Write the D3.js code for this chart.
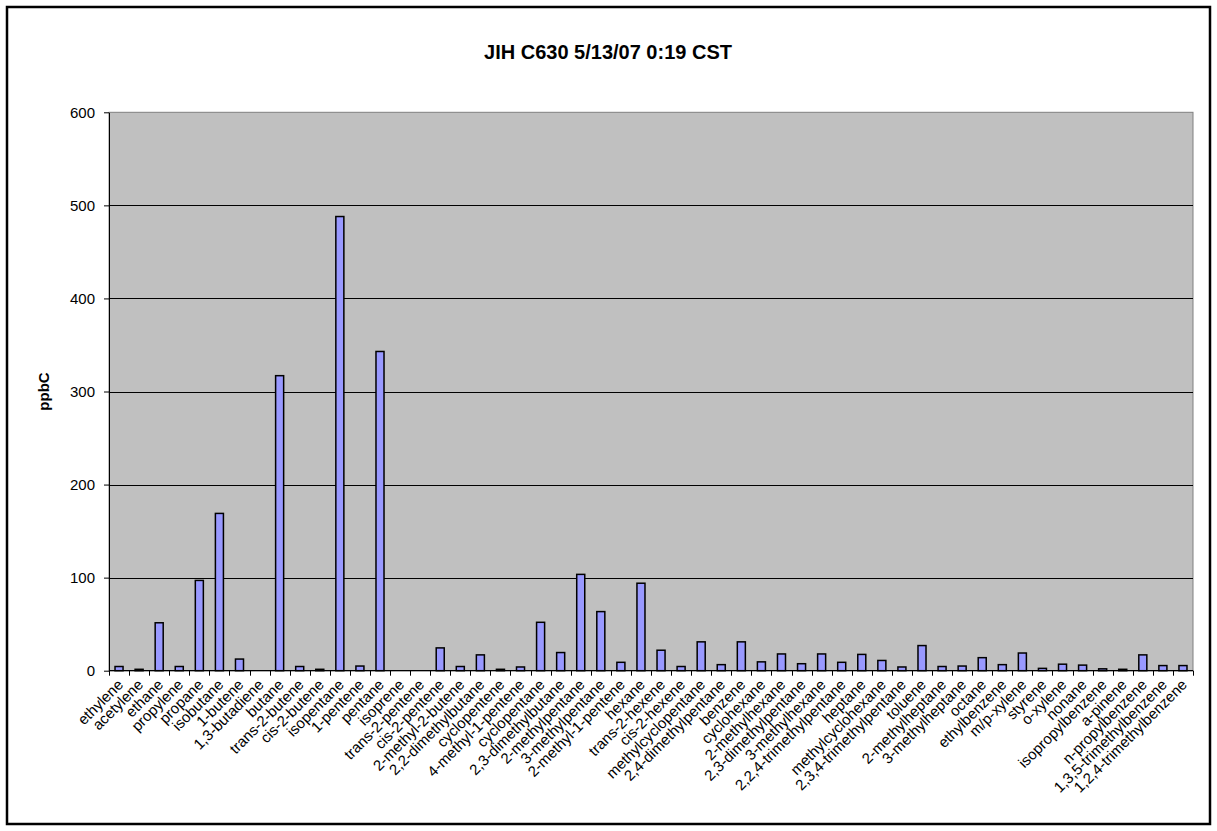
<!DOCTYPE html>
<html>
<head>
<meta charset="utf-8">
<script src="https://cdn.jsdelivr.net/npm/d3@7"></script>
<style>
  html, body { margin: 0; padding: 0; background: #fff; }
  svg { display: block; font-family: "Liberation Sans", Arial, sans-serif; }
</style>
</head>
<body>
<svg id="chart" width="1217" height="831"></svg>
<script>
// VOC speciation, ppbC
const compounds = [
  "ethylene", "acetylene", "ethane", "propylene", "propane", "isobutane",
  "1-butene", "1,3-butadiene", "butane", "trans-2-butene", "cis-2-butene",
  "isopentane", "1-pentene", "pentane", "isoprene", "trans-2-pentene",
  "cis-2-pentene", "2-methyl-2-butene", "2,2-dimethylbutane", "cyclopentene",
  "4-methyl-1-pentene", "cyclopentane", "2,3-dimethylbutane", "2-methylpentane",
  "3-methylpentane", "2-methyl-1-pentene", "hexane", "trans-2-hexene",
  "cis-2-hexene", "methylcyclopentane", "2,4-dimethylpentane", "benzene",
  "cyclohexane", "2-methylhexane", "2,3-dimethylpentane", "3-methylhexane",
  "2,2,4-trimethylpentane", "heptane", "methylcyclohexane",
  "2,3,4-trimethylpentane", "toluene", "2-methylheptane", "3-methylheptane",
  "octane", "ethylbenzene", "m/p-xylene", "styrene", "o-xylene", "nonane",
  "isopropylbenzene", "a-pinene", "n-propylbenzene", "1,3,5-trimethylbenzene",
  "1,2,4-trimethylbenzene"
];

const ppbC = [
  4.5, 1.5, 51.5, 4.5, 97, 169,
  12.5, 0, 317, 4.5, 1.5,
  488, 5, 343, 0, 0,
  24.5, 4.5, 17, 1.5,
  4, 52, 19.5, 103.5,
  63.5, 9, 94, 22,
  4.5, 31, 6.5, 31,
  9.5, 18, 7.5, 18,
  9, 17.5, 11,
  4, 27, 4.5, 5,
  14, 6.5, 19, 2.5, 7, 6,
  2, 1.5, 17, 5.5,
  5.5
];

const yTicks = [0, 100, 200, 300, 400, 500, 600];
const chartTitle = "JIH C630 5/13/07 0:19 CST";
const yTitle = "ppbC";

const svg = d3.select("#chart");
const plot = { left: 109, right: 1193, top: 112.3, bottom: 670.7 };

// Outer chart frame
svg.append("rect")
  .attr("x", 7).attr("y", 7)
  .attr("width", 1203).attr("height", 817)
  .attr("fill", "#fff").attr("stroke", "#000").attr("stroke-width", 2.5);

const x = d3.scaleBand()
  .domain(compounds)
  .range([plot.left, plot.right])
  .paddingInner(0.6).paddingOuter(0.3);

const y = d3.scaleLinear().domain([0, 600]).range([plot.bottom, plot.top]);

// Plot area background
svg.append("rect")
  .attr("x", plot.left).attr("y", plot.top)
  .attr("width", plot.right - plot.left).attr("height", plot.bottom - plot.top)
  .attr("fill", "#C0C0C0").attr("stroke", "#808080").attr("stroke-width", 1);

// Horizontal gridlines
svg.append("g")
  .selectAll("line")
  .data(yTicks.filter(d => d > 0 && d < 600))
  .join("line")
  .attr("x1", plot.left).attr("x2", plot.right)
  .attr("y1", d => Math.round(y(d)) + 0.5).attr("y2", d => Math.round(y(d)) + 0.5)
  .attr("stroke", "#000").attr("stroke-width", 1);

// Bars
svg.append("g")
  .selectAll("rect")
  .data(compounds.map((c, i) => ({ c, v: ppbC[i] })))
  .join("rect")
  .attr("x", d => x(d.c))
  .attr("width", x.bandwidth())
  .attr("y", d => y(d.v))
  .attr("height", d => y(0) - y(d.v))
  .attr("fill", "#9999FF")
  .attr("stroke", "#000")
  .attr("stroke-width", 1.5)
  .attr("visibility", d => d.v > 0 ? "visible" : "hidden");

// Y axis
const yAxis = svg.append("g")
  .attr("transform", `translate(${plot.left},0)`)
  .call(d3.axisLeft(y).tickValues(yTicks).tickSize(5).tickPadding(9).tickSizeOuter(0));
yAxis.select(".domain").attr("stroke", "#000");
yAxis.selectAll(".tick line").attr("stroke", "#000");
yAxis.selectAll(".tick text")
  .attr("font-size", 15).attr("fill", "#000")
  .attr("font-family", "Liberation Sans, Arial, sans-serif");

// X axis: tick marks at category boundaries
const boundaries = d3.range(compounds.length + 1).map(i => plot.left + i * (plot.right - plot.left) / compounds.length);
svg.append("line")
  .attr("x1", plot.left).attr("x2", plot.right)
  .attr("y1", plot.bottom).attr("y2", plot.bottom)
  .attr("stroke", "#000").attr("stroke-width", 1.2);
svg.append("g")
  .selectAll("line")
  .data(boundaries)
  .join("line")
  .attr("x1", d => Math.round(d) + 0.5).attr("x2", d => Math.round(d) + 0.5)
  .attr("y1", plot.bottom).attr("y2", plot.bottom + 5)
  .attr("stroke", "#000");

// Category labels, rotated
svg.append("g")
  .selectAll("text")
  .data(compounds)
  .join("text")
  .attr("transform", d => `translate(${x(d) + x.bandwidth() / 2 + 5},${plot.bottom + 15}) rotate(-45)`)
  .attr("text-anchor", "end")
  .attr("font-size", 15)
  .attr("fill", "#000")
  .text(d => d);

// Title
svg.append("text")
  .attr("x", 608).attr("y", 59)
  .attr("text-anchor", "middle")
  .attr("font-size", 20).attr("font-weight", "bold")
  .text(chartTitle);

// Y axis title
svg.append("text")
  .attr("transform", `translate(49,${(plot.top + plot.bottom) / 2}) rotate(-90)`)
  .attr("text-anchor", "middle")
  .attr("font-size", 15).attr("font-weight", "bold")
  .text(yTitle);
</script>
</body>
</html>
